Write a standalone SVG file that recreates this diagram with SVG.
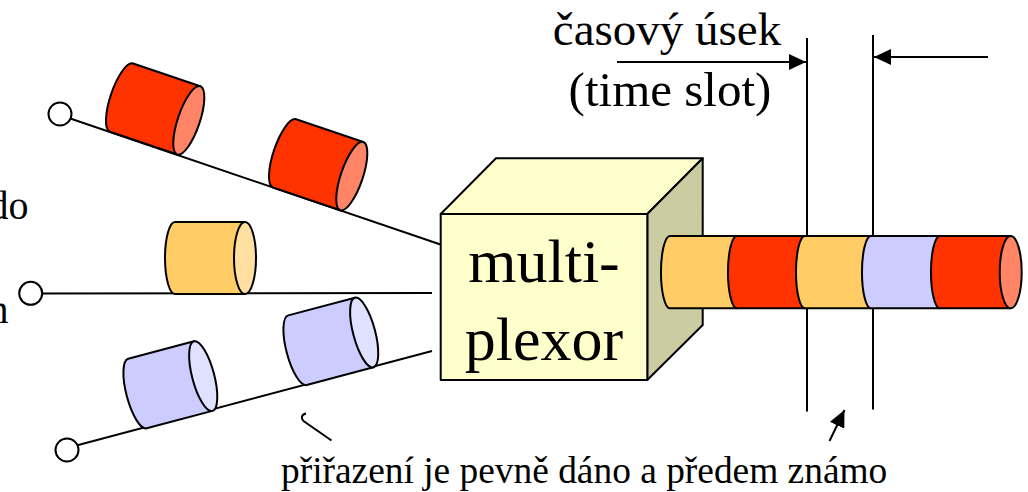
<svg xmlns="http://www.w3.org/2000/svg" width="1028" height="492" viewBox="0 0 1028 492">
<style>
  .ln{stroke:#000;stroke-width:2;fill:none}
  .sh{stroke:#000;stroke-width:2;stroke-linejoin:round}
  .port{fill:#fff;stroke:#000;stroke-width:2}
  .red{fill:#FF3300}.redE{fill:#FF8566}
  .org{fill:#FFCC66}.orgE{fill:#FFE0A0}
  .lav{fill:#CCCCFF}.lavE{fill:#E0E0FF}
</style>
<defs>
  <marker id="ah" markerUnits="userSpaceOnUse" markerWidth="18" markerHeight="16" refX="17" refY="8" orient="auto">
    <path d="M0,0 L17,8 L0,16 Z" fill="#000"/>
  </marker>
</defs>
<rect width="1028" height="492" fill="#fff"/>

<!-- labels cut by the left edge, as in the picture -->
<text x="28.5" y="218.5" font-size="40" text-anchor="end" font-family="Liberation Serif, Times New Roman, serif">do</text>
<text x="8.5" y="323" font-size="40" text-anchor="end" font-family="Liberation Serif, Times New Roman, serif">n</text>

<!-- connectors -->
<g id="connectors">
  <line class="ln" x1="60" y1="115" x2="440.5" y2="244.5"/>
  <line class="ln" x1="31" y1="293.5" x2="432" y2="293"/>
  <line class="ln" x1="67" y1="448" x2="432" y2="351"/>
  <line class="ln" x1="807" y1="38" x2="807" y2="411.5"/>
  <line class="ln" x1="873" y1="35" x2="873" y2="409.5"/>
  <line class="ln" x1="617" y1="62" x2="806" y2="62" marker-end="url(#ah)"/>
  <line class="ln" x1="988" y1="57" x2="874" y2="57" marker-end="url(#ah)"/>
  <line class="ln" x1="829.5" y1="441" x2="844.5" y2="410" marker-end="url(#ah)"/>
  <path class="ln" d="M306,413.5 C301.5,414.5 300.5,418 303.5,421 L331.5,440.5"/>
</g>

<!-- input ports -->
<g id="port1"><circle class="port" cx="60" cy="114" r="11.5"/></g>
<g id="port2"><circle class="port" cx="30.7" cy="293.3" r="11.5"/></g>
<g id="port3"><circle class="port" cx="67" cy="450" r="11.5"/></g>

<!-- packets -->
<g id="pkt-red-1" transform="translate(110,131.7) rotate(18.7)">
  <path class="sh red" d="M0,0 A11,36 0 0 1 0,-72 L71,-72 L71,0 Z"/>
  <ellipse class="sh redE" cx="71" cy="-36" rx="11" ry="36"/>
</g>
<g id="pkt-red-2" transform="translate(273,187.5) rotate(18.7)">
  <path class="sh red" d="M0,0 A11,36 0 0 1 0,-72 L71,-72 L71,0 Z"/>
  <ellipse class="sh redE" cx="71" cy="-36" rx="11" ry="36"/>
</g>
<g id="pkt-org-1" transform="translate(175,294)">
  <path class="sh org" d="M0,0 A10,36 0 0 1 0,-72 L70,-72 L70,0 Z"/>
  <ellipse class="sh orgE" cx="70" cy="-36" rx="11" ry="36"/>
</g>
<g id="pkt-lav-1" transform="translate(146.7,428.3) rotate(-14.85)">
  <path class="sh lav" d="M0,0 A11,36 0 0 1 0,-72 L68,-72 L68,0 Z"/>
  <ellipse class="sh lavE" cx="68" cy="-36" rx="11" ry="36"/>
</g>
<g id="pkt-lav-2" transform="translate(306.7,385) rotate(-14.85)">
  <path class="sh lav" d="M0,0 A11,36 0 0 1 0,-72 L69,-72 L69,0 Z"/>
  <ellipse class="sh lavE" cx="69" cy="-36" rx="11" ry="36"/>
</g>

<!-- multiplexor cube -->
<g id="multiplexor">
  <polygon class="sh" fill="#FFFFCC" points="440.7,214 496,158.3 702.7,158.3 647.3,214"/>
  <polygon class="sh" fill="#CCCCA3" points="647.3,214 702.7,158.3 702.7,325 647.3,380"/>
  <rect class="sh" fill="#FFFFCC" x="440.7" y="214" width="206.6" height="166"/>
  <text x="544" y="281.7" font-size="62" text-anchor="middle" font-family="Liberation Serif, Times New Roman, serif">multi-</text>
  <text x="544" y="360" font-size="62" text-anchor="middle" font-family="Liberation Serif, Times New Roman, serif">plexor</text>
</g>

<!-- output link (multiplexed stream) -->
<g id="output-stream">
  <path class="sh org" d="M670,308.3 A9,36 0 0 1 670,236 L737,236 L737,308.3 Z"/>
  <path class="sh red" d="M737,308.3 A9,36 0 0 1 737,236 L805,236 L805,308.3 Z"/>
  <path class="sh org" d="M805,308.3 A9,36 0 0 1 805,236 L871,236 L871,308.3 Z"/>
  <path class="sh lav" d="M871,308.3 A9,36 0 0 1 871,236 L940,236 L940,308.3 Z"/>
  <path class="sh red" d="M940,308.3 A9,36 0 0 1 940,236 L1010.7,236 L1010.7,308.3 Z"/>
  <ellipse class="sh redE" cx="1010.7" cy="272.15" rx="11" ry="36.15"/>
</g>

<!-- labels -->
<g id="label-slot">
  <text x="667" y="45" font-size="47" text-anchor="middle" font-family="Liberation Serif, Times New Roman, serif">časový úsek</text>
  <text x="670" y="106" font-size="49" text-anchor="middle" font-family="Liberation Serif, Times New Roman, serif">(time slot)</text>
</g>
<g id="label-assign">
  <text x="281" y="482.5" font-size="37.4" font-family="Liberation Serif, Times New Roman, serif">přiřazení je pevně dáno a předem známo</text>
</g>
</svg>
